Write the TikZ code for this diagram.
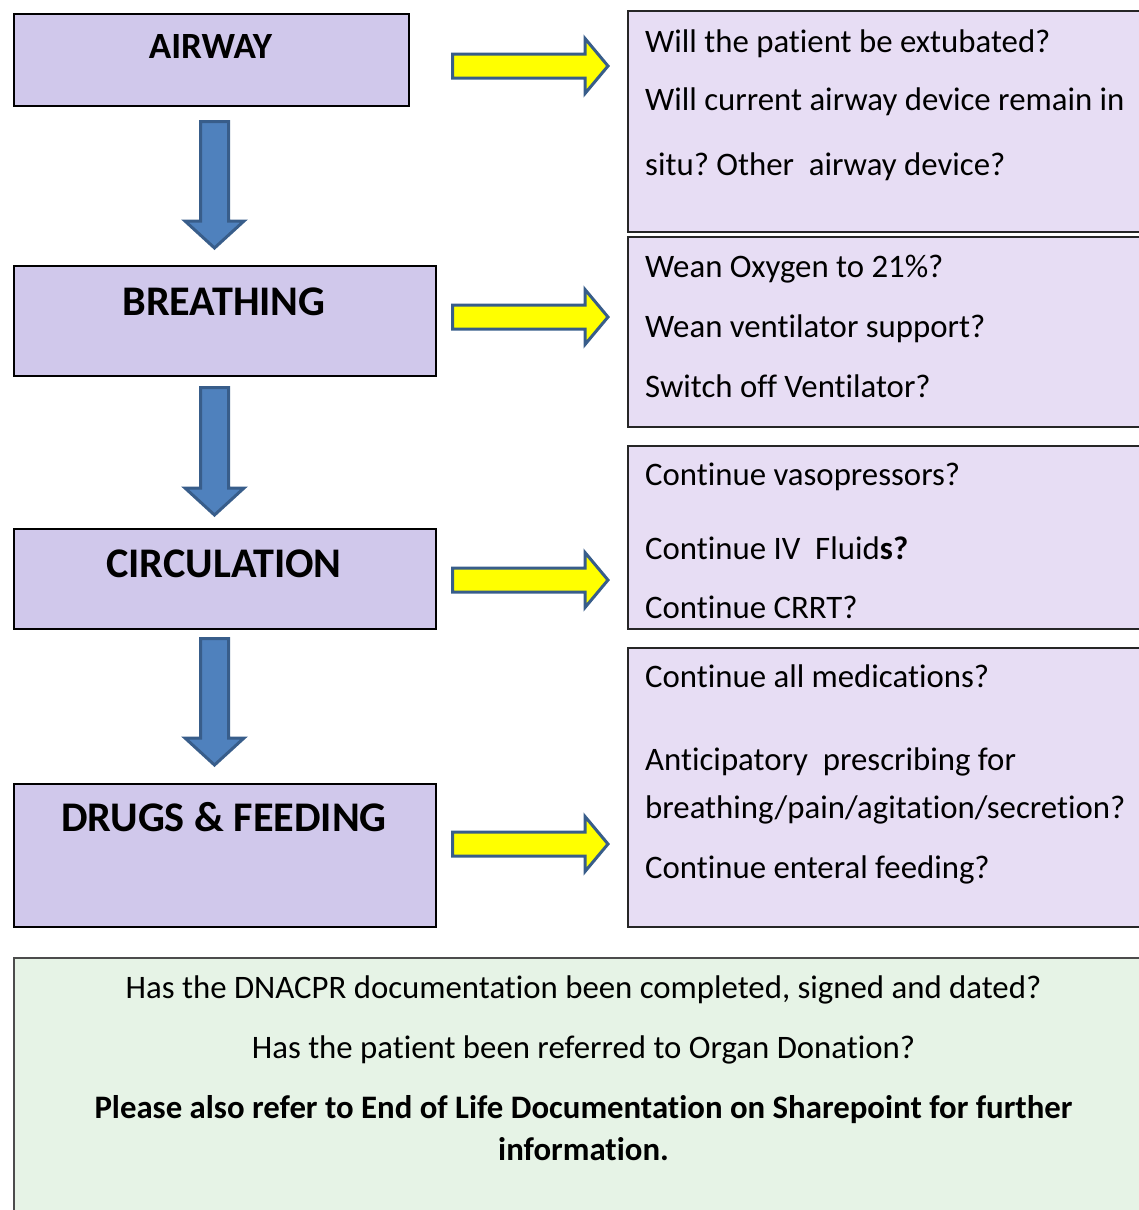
\documentclass[tikz,border=0pt]{standalone}
\usepackage{fontspec}
\setmainfont{Carlito}[Ligatures=NoCommon]
\usetikzlibrary{calc}
\frenchspacing

\definecolor{headfill}{RGB}{208,200,235}
\definecolor{qfill}{RGB}{231,221,244}
\definecolor{notefill}{RGB}{230,243,230}
\definecolor{bluefill}{RGB}{79,129,189}
\definecolor{blueedge}{RGB}{56,93,138}
\definecolor{arrowyellow}{RGB}{255,255,0}

\tikzset{
  headbox/.style={draw=black, line width=1.5pt, fill=headfill, inner sep=0pt, anchor=north west},
  qbox/.style={draw=black!85, line width=2pt, fill=qfill, inner sep=0pt, anchor=north west},
  notebox/.style={draw=black!70, line width=2pt, fill=notefill, inner sep=0pt, anchor=north west},
  headtext/.style={font=\fontsize{42.2}{50}\selectfont\bfseries, anchor=base, inner sep=0pt},
  qtext/.style={font=\fontsize{32.8}{39}\selectfont, anchor=base west, inner sep=0pt},
  notetext/.style={font=\fontsize{32.8}{39}\selectfont, anchor=base, inner sep=0pt},
  downarrow/.style={draw=blueedge, fill=bluefill, line width=3pt, line join=miter},
  sidearrow/.style={draw=blueedge, fill=arrowyellow, line width=3pt, line join=miter},
}

% block arrow pointing down from #1 (top centre) to #2 (tip)
\newcommand\vblock[2]{%
  \draw[downarrow] ($(#1)+(-14,1.5)$) -- ($(#2)+(-14,-29)$) -- ($(#2)+(-29.5,-29)$)
    -- ($(#2)+(0,-2)$) -- ($(#2)+(29.5,-29)$) -- ($(#2)+(14,-29)$) -- ($(#1)+(14,1.5)$) -- cycle;}
% block arrow pointing right from #1 (left centre) to #2 (tip)
\newcommand\hblock[2]{%
  \draw[sidearrow] ($(#1)+(1.5,-12)$) -- ($(#2)+(-25,-12)$) -- ($(#2)+(-25,-27.5)$)
    -- ($(#2)+(-2,0)$) -- ($(#2)+(-25,27.5)$) -- ($(#2)+(-25,12)$) -- ($(#1)+(1.5,12)$) -- cycle;}

\begin{document}
\begin{tikzpicture}[x=1pt, y=-1pt]
\useasboundingbox (0,0) rectangle (1139,1210);
\clip (0,0) rectangle (1139,1210);

% left column: stage boxes
\node[headbox, minimum width=395pt, minimum height=92pt]  (airway) at (13,13) {};
\node[headbox, minimum width=422pt, minimum height=110pt] (breath) at (13,265) {};
\node[headbox, minimum width=422pt, minimum height=100pt] (circ)   at (13,528) {};
\node[headbox, minimum width=422pt, minimum height=143pt] (drugs)  at (13,783) {};

\node[headtext, font=\fontsize{37}{44}\selectfont\bfseries] (airwayT) at (210.5,58) {AIRWAY};
\node[headtext] (breathT) at (224,315) {BREATHING};
\node[headtext] (circT)   at (224,577) {CIRCULATION};
\node[headtext] (drugsT)  at (224,831) {DRUGS \& FEEDING};

% right column: question boxes
\node[qbox, minimum width=530pt, minimum height=221pt] (q1) at (627,10) {};
\node[qbox, minimum width=530pt, minimum height=190pt] (q2) at (627,236) {};
\node[qbox, minimum width=530pt, minimum height=183pt] (q3) at (627,445) {};
\node[qbox, minimum width=530pt, minimum height=279pt] (q4) at (627,647) {};

\node[qtext] (q1a) at (645,52)  {Will the patient be extubated?};
\node[qtext] (q1b) at (645,110) {Will current airway device remain in};
\node[qtext] (q1c) at (645,175) {situ? Other~\ airway device?};

\node[qtext] (q2a) at (645,277) {Wean Oxygen to 21\%?};
\node[qtext] (q2b) at (645,337) {Wean ventilator support?};
\node[qtext] (q2c) at (645,397) {Switch off Ventilator?};

\node[qtext] (q3a) at (645,485) {Continue vasopressors?};
\node[qtext] (q3b) at (645,559) {Continue IV~\ Fluid\textbf{s?}};
\node[qtext] (q3c) at (645,618) {Continue CRRT?};

\node[qtext] (q4a) at (645,687) {Continue all medications?};
\node[qtext] (q4b) at (645,770) {Anticipatory~\ prescribing for};
\node[qtext] (q4c) at (645,818) {breathing/pain/agitation/secretion?};
\node[qtext] (q4d) at (645,878) {Continue enteral feeding?};

% footer note
\node[notebox, minimum width=1140pt, minimum height=270pt] (note) at (13,957) {};
\node[notetext] (n1) at (583.5,998)  {Has the DNACPR documentation been completed, signed and dated?};
\node[notetext] (n2) at (583.5,1058) {Has the patient been referred to Organ Donation?};
\node[notetext, font=\fontsize{32.8}{39}\selectfont\bfseries] (n3) at (583.5,1118) {Please also refer to End of Life Documentation on Sharepoint for further};
\node[notetext, font=\fontsize{32.8}{39}\selectfont\bfseries] (n4) at (583.5,1160) {information.};

% arrow end points
\coordinate (d1s) at (214.5,120); \coordinate (d1e) at (214.5,250);
\coordinate (d2s) at (214.5,386); \coordinate (d2e) at (214.5,517);
\coordinate (d3s) at (214.5,637); \coordinate (d3e) at (214.5,767);
\coordinate (r1s) at (451,66);  \coordinate (r1e) at (610,66);
\coordinate (r2s) at (451,317); \coordinate (r2e) at (610,317);
\coordinate (r3s) at (451,580); \coordinate (r3e) at (610,580);
\coordinate (r4s) at (451,844); \coordinate (r4e) at (610,844);

% flow arrows between stages
\vblock{d1s}{d1e}
\vblock{d2s}{d2e}
\vblock{d3s}{d3e}

% arrows from stages to questions
\hblock{r1s}{r1e}
\hblock{r2s}{r2e}
\hblock{r3s}{r3e}
\hblock{r4s}{r4e}
\end{tikzpicture}
\end{document}
